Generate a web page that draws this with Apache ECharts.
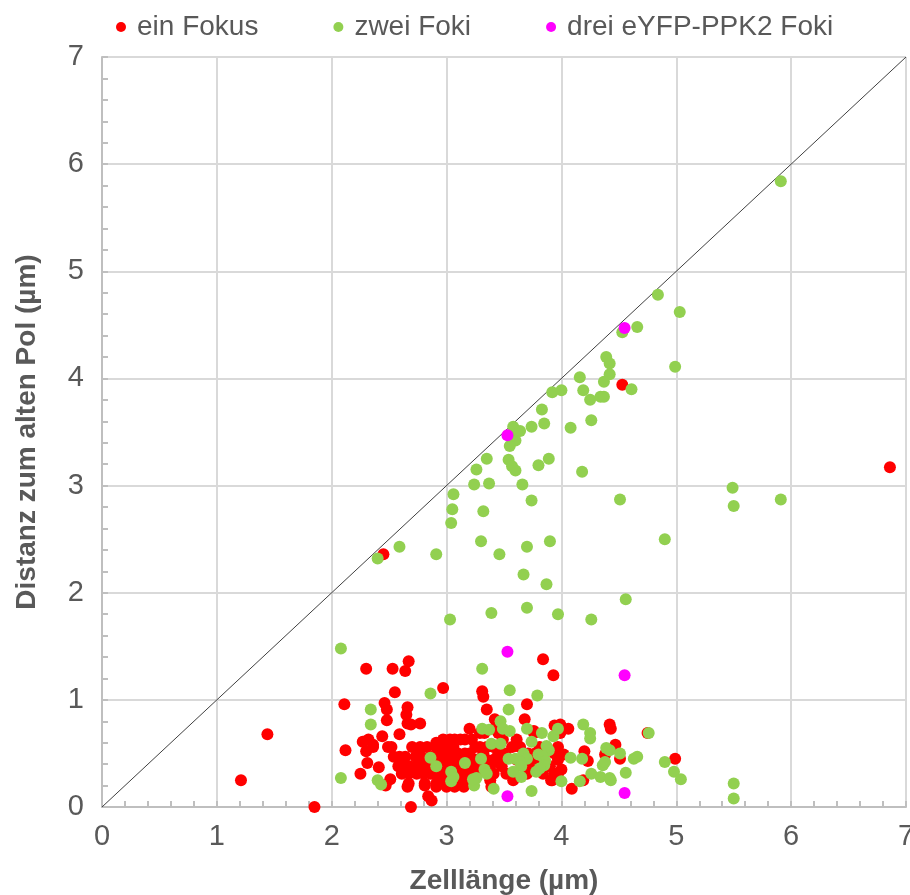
<!DOCTYPE html>
<html>
<head>
<meta charset="utf-8">
<script src="https://cdn.jsdelivr.net/npm/echarts@6/dist/echarts.min.js"></script>
<style>
  html, body { margin: 0; padding: 0; background: #fff; }
  #chart { width: 910px; height: 895px; }
</style>
</head>
<body>
<div id="chart"></div>
<script>
// Serien-Namen
var seriesNames = ['ein Fokus', 'zwei Foki', 'drei eYFP-PPK2 Foki'];
var axisTicks = [0, 1, 2, 3, 4, 5, 6, 7];

// ein Fokus: [Zelllänge, Distanz]
var einFokus = [
  [1.21,0.25],[1.44,0.68],[1.85,0.00],[2.11,0.96],[2.12,0.53],[2.30,1.29],[2.53,1.29],[2.67,1.36],
  [2.64,1.27],[2.97,1.11],[2.55,1.07],[2.46,0.97],[2.48,0.91],[2.66,0.93],[2.65,0.86],[2.66,0.78],
  [2.69,0.77],[2.77,0.78],[2.48,0.81],[2.59,0.68],[2.44,0.66],[2.27,0.61],[2.32,0.63],[2.36,0.58],
  [2.30,0.52],[2.31,0.41],[2.41,0.37],[2.25,0.31],[2.51,0.26],[2.47,0.20],[2.66,0.19],[2.69,0.00],
  [2.81,0.20],[2.84,0.10],[2.87,0.06],[2.94,0.25],[2.91,0.19],
  [2.45,2.36],[4.53,3.94],[6.86,3.17],
  [3.84,1.38],[3.93,1.23],[3.31,1.08],[3.32,1.03],[3.35,0.91],[3.70,0.96],[3.68,0.82],[3.42,0.82],
  [3.99,0.77],[4.06,0.73],[4.42,0.77],[4.43,0.73],[4.75,0.69],[4.47,0.58],[4.51,0.45],[4.99,0.45],
  [4.20,0.52],[4.23,0.43],[4.38,0.49],[4.00,0.35],[4.19,0.25],[4.09,0.17],[3.92,0.25],[3.97,0.56],
  [3.96,0.50],[4.02,0.49],[3.97,0.28],[3.76,0.71],[3.94,0.76],
  [2.36,0.56],[2.49,0.56],[2.52,0.56],[2.70,0.56],[2.77,0.56],[2.83,0.56],[2.91,0.56],[2.99,0.56],
  [2.54,0.47],[2.59,0.47],[2.64,0.47],[2.73,0.47],[2.78,0.47],[2.86,0.47],[2.91,0.47],[2.97,0.47],
  [2.58,0.38],[2.64,0.38],[2.68,0.38],[2.75,0.38],[2.81,0.38],[2.88,0.38],[2.94,0.38],[3.00,0.38],
  [2.61,0.31],[2.67,0.31],[2.74,0.31],[2.80,0.31],[2.86,0.31],[2.91,0.31],[2.99,0.31],
  [2.67,0.22],[2.81,0.22],[2.91,0.22],[2.97,0.22],
  [2.91,0.60],[2.99,0.62],[3.03,0.58],
  [3.20,0.73],[3.42,0.73],
  [3.29,0.69],[3.33,0.69],[3.45,0.69],[3.76,0.69],[3.99,0.69],
  [2.97,0.63],[3.03,0.63],[3.07,0.63],[3.12,0.63],[3.16,0.63],[3.22,0.63],[3.49,0.63],[3.61,0.63],
  [3.00,0.56],[3.06,0.56],[3.25,0.56],[3.29,0.56],[3.35,0.56],[3.41,0.56],[3.57,0.56],[3.64,0.56],[3.81,0.56],
  [2.94,0.50],[3.03,0.50],[3.10,0.50],[3.16,0.50],[3.20,0.50],[3.32,0.50],[3.45,0.50],[3.51,0.50],[3.71,0.50],[3.77,0.50],[3.94,0.50],
  [2.97,0.44],[3.06,0.44],[3.13,0.44],[3.19,0.44],[3.26,0.44],[3.35,0.44],[3.41,0.44],[3.46,0.44],[3.61,0.44],[3.79,0.44],[3.97,0.44],
  [2.94,0.38],[3.02,0.38],[3.09,0.38],[3.15,0.38],[3.22,0.38],[3.29,0.38],[3.38,0.38],[3.48,0.38],[3.73,0.38],[3.81,0.38],[3.90,0.38],
  [2.99,0.31],[3.05,0.31],[3.12,0.31],[3.19,0.31],[3.26,0.31],[3.41,0.31],[3.52,0.31],[3.70,0.31],[3.84,0.31],[3.94,0.31],
  [2.97,0.25],[3.03,0.25],[3.10,0.25],[3.17,0.25],[3.38,0.25],[3.58,0.25],[3.91,0.25],
  [3.00,0.19],[3.07,0.19],[3.15,0.19],[3.39,0.19]
];

// zwei Foki
var zweiFoki = [
  [5.91,5.84],[4.84,4.78],[5.03,4.62],[4.66,4.48],[4.53,4.43],[4.39,4.20],[4.42,4.14],[4.99,4.11],
  [4.42,4.04],[4.16,4.01],[4.37,3.97],[4.61,3.90],[3.92,3.87],[4.00,3.89],[4.19,3.89],[4.25,3.80],
  [4.34,3.83],[4.37,3.83],[3.83,3.71],[3.74,3.55],[3.85,3.58],[4.08,3.54],[4.26,3.61],[3.58,3.55],
  [3.64,3.51],[3.56,3.46],[3.60,3.42],[3.55,3.37],[3.54,3.24],[3.35,3.25],[3.89,3.25],[3.57,3.18],
  [3.60,3.14],[3.80,3.19],[3.26,3.15],[4.18,3.13],[3.24,3.01],[3.37,3.02],[3.66,3.01],[3.06,2.92],
  [3.05,2.78],[3.32,2.76],[3.74,2.86],[4.51,2.87],[3.04,2.65],[4.90,2.50],[3.30,2.48],[3.90,2.48],
  [3.70,2.43],[2.59,2.43],[2.91,2.36],[3.46,2.36],[2.40,2.32],[3.67,2.17],[3.87,2.08],[4.56,1.94],
  [3.03,1.75],[3.39,1.81],[3.70,1.86],[3.97,1.80],[4.26,1.75],[5.49,2.98],[5.50,2.81],[5.91,2.87],
  [2.08,1.48],[2.86,1.06],[2.34,0.91],[2.34,0.77],[2.08,0.27],[2.40,0.25],[2.43,0.21],[2.86,0.46],
  [2.91,0.38],[3.31,1.29],[3.55,1.09],[3.79,1.04],[3.54,0.91],[3.31,0.73],[3.37,0.72],[3.47,0.80],
  [3.49,0.73],[3.55,0.71],[3.70,0.73],[3.83,0.69],[3.93,0.66],[3.97,0.73],[4.19,0.77],[4.25,0.69],
  [4.25,0.64],[3.39,0.59],[3.47,0.59],[3.74,0.61],[3.87,0.57],[3.89,0.53],[4.39,0.55],[4.42,0.53],
  [4.51,0.50],[4.76,0.69],[3.67,0.50],[3.70,0.45],[3.80,0.49],[3.84,0.47],[3.86,0.43],[3.85,0.39],
  [3.54,0.45],[3.60,0.45],[3.30,0.45],[4.08,0.46],[4.18,0.45],[4.63,0.45],[4.66,0.47],[4.90,0.42],
  [4.36,0.39],[4.38,0.42],[3.64,0.42],[3.65,0.38],[3.04,0.33],[3.06,0.28],[3.04,0.24],[3.33,0.35],
  [3.35,0.31],[3.16,0.41],[3.26,0.27],[3.24,0.20],[3.58,0.33],[3.65,0.28],[3.78,0.33],[3.81,0.36],
  [4.00,0.24],[4.16,0.24],[4.26,0.31],[4.34,0.28],[4.42,0.27],[4.43,0.25],[4.56,0.32],[4.98,0.33],
  [5.04,0.26],[3.41,0.17],[3.74,0.15],[3.23,0.26],[5.50,0.22],[5.50,0.08]
];

// drei eYFP-PPK2 Foki
var dreiFoki = [
  [4.55,4.47],[3.53,3.47],[3.53,1.45],[4.55,1.23],[3.53,0.10],[4.55,0.13]
];

// Diagonale y = x
var diagonal = [[0, 0], [7, 7]];

var textColor = '#595959';
var fontFam = '"Liberation Sans", Arial, sans-serif';

function makeAxis(name, gap, labelMargin) {
  return {
    type: 'value',
    min: axisTicks[0],
    max: axisTicks[axisTicks.length - 1],
    interval: 1,
    name: name,
    nameLocation: 'middle',
    nameGap: gap,
    nameTextStyle: { color: textColor, fontSize: 28, fontWeight: 'bold', fontFamily: fontFam },
    axisLine: { show: true, onZero: false, lineStyle: { color: '#bfbfbf', width: 2 } },
    axisTick: { show: true, inside: true, length: 6, lineStyle: { color: '#bfbfbf', width: 2 } },
    minorTick: { show: true, splitNumber: 5, length: 6, lineStyle: { color: '#bfbfbf', width: 2 } },
    axisLabel: { color: textColor, fontSize: 29, fontFamily: fontFam, margin: labelMargin },
    splitLine: { show: true, lineStyle: { color: '#d9d9d9', width: 2 } }
  };
}

var chart = echarts.init(document.getElementById('chart'));

var xAxis = makeAxis('Zelllänge (µm)', 60, 15);
var yAxis = makeAxis('Distanz zum alten Pol (µm)', 61, 18);

chart.setOption({
  animation: false,
  backgroundColor: '#fff',
  grid: { left: 102, right: 4, top: 57, bottom: 88, containLabel: false, outerBoundsMode: 'none' },
  legend: {
    data: seriesNames,
    top: 8,
    left: 111,
    itemGap: 75,
    itemWidth: 22,
    itemHeight: 10,
    icon: 'circle',
    textStyle: { color: textColor, fontSize: 28, fontFamily: fontFam }
  },
  xAxis: xAxis,
  yAxis: yAxis,
  series: [
    {
      type: 'line',
      data: diagonal,
      symbol: 'none',
      silent: true,
      lineStyle: { color: '#404040', width: 1 },
      z: 1
    },
    {
      name: seriesNames[0],
      type: 'scatter',
      data: einFokus,
      symbolSize: 12,
      itemStyle: { color: '#ff0000', opacity: 1 },
      z: 2
    },
    {
      name: seriesNames[1],
      type: 'scatter',
      data: zweiFoki,
      symbolSize: 12,
      itemStyle: { color: '#92d050', opacity: 1 },
      z: 3
    },
    {
      name: seriesNames[2],
      type: 'scatter',
      data: dreiFoki,
      symbolSize: 12,
      itemStyle: { color: '#ff00ff', opacity: 1 },
      z: 4
    }
  ]
});
</script>
</body>
</html>
